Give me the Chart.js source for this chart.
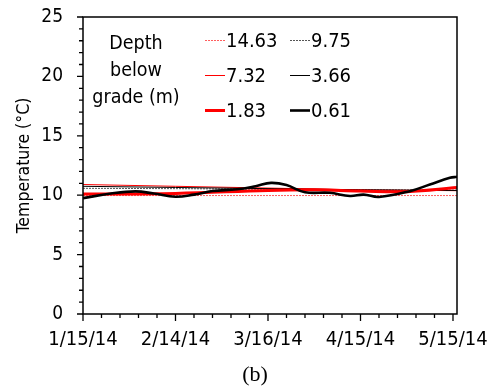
<!DOCTYPE html>
<html>
<head>
<meta charset="utf-8">
<script src="https://cdn.jsdelivr.net/npm/chart.js@4/dist/chart.umd.min.js"></script>
<style>
  html, body { margin: 0; padding: 0; background: #fff; }
</style>
</head>
<body>
<canvas id="chart" width="494" height="392"></canvas>
<script>
// x values are days after 1/15/14
const tickDates = ["1/15/14", "2/14/14", "3/16/14", "4/15/14", "5/15/14"];
const legendTitle = ["Depth", "below", "grade (m)"];
const depthLabels = ["14.63", "9.75", "7.32", "3.66", "1.83", "0.61"];

const daysCoarse = [0, 30, 60, 90, 121.3];
const temp1463 = [9.97, 9.97, 9.97, 9.97, 9.97];
const temp975 = [10.58, 10.55, 10.5, 10.45, 10.42];
const temp732 = [10.9, 10.75, 10.6, 10.45, 10.38];
const temp366 = [10.75, 10.65, 10.55, 10.45, 10.4];

const days183 = [0, 30, 60, 75, 90, 105, 121.3];
const temp183 = [10.1, 10.15, 10.4, 10.45, 10.35, 10.3, 10.65];

const days061 = [0, 9, 17, 23, 30, 36, 42, 50, 56, 61, 66, 72, 80, 86.6, 91, 96, 106, 112.5, 119, 121.3];
const temp061 = [9.75, 10.14, 10.32, 10.14, 9.87, 10.05, 10.35, 10.5, 10.76, 11.04, 10.85, 10.25, 10.2, 9.93, 10.05, 9.85, 10.34, 10.9, 11.46, 11.55];

const pts = (xs, ys) => xs.map((d, i) => ({ x: d, y: ys[i] }));

const FONT = '"DejaVu Sans Condensed", "DejaVu Sans", sans-serif';
Chart.defaults.font.family = FONT;
Chart.defaults.color = "#000";

// box round the plot plus long/short tick marks
const frameTicks = {
  id: "frameTicks",
  afterDraw(chart) {
    const { ctx, chartArea: a, scales: { x, y } } = chart;
    ctx.save();
    ctx.strokeStyle = "#000";
    ctx.lineWidth = 1.5;
    ctx.strokeRect(a.left, a.top, a.right - a.left, a.bottom - a.top);
    ctx.lineWidth = 1.3;
    ctx.beginPath();
    x.ticks.forEach(t => {
      const px = x.getPixelForValue(t.value);
      const len = t.value % 30 === 0 ? 7 : 4;
      ctx.moveTo(px, a.bottom);
      ctx.lineTo(px, a.bottom + len);
    });
    y.ticks.forEach(t => {
      const py = y.getPixelForValue(t.value);
      const len = t.value % 5 === 0 ? 6 : 4;
      ctx.moveTo(a.left, py);
      ctx.lineTo(a.left - len, py);
    });
    ctx.stroke();
    ctx.restore();
  }
};

// two-column legend with a title, inside the plot
const depthLegend = {
  id: "depthLegend",
  afterDatasetsDraw(chart) {
    const { ctx } = chart;
    ctx.save();
    ctx.fillStyle = "#000";
    ctx.font = "19.5px " + FONT;
    ctx.textAlign = "center";
    ctx.textBaseline = "middle";
    legendTitle.forEach((s, i) => ctx.fillText(s, 136, 44 + i * 27));
    ctx.font = "20px " + FONT;
    ctx.textAlign = "left";
    chart.data.datasets.forEach((ds, i) => {
      const col = i % 2, row = Math.floor(i / 2);
      const x0 = col ? 290 : 205;
      const yy = 40.5 + row * 35;
      ctx.strokeStyle = ds.borderColor;
      ctx.lineWidth = ds.borderWidth;
      ctx.setLineDash(ds.borderDash || []);
      ctx.beginPath();
      ctx.moveTo(x0, yy);
      ctx.lineTo(x0 + 20, yy);
      ctx.stroke();
      ctx.setLineDash([]);
      ctx.fillText(ds.label, x0 + 21, yy + 1);
    });
    ctx.restore();
  }
};

const caption = {
  id: "caption",
  afterDraw(chart) {
    const { ctx } = chart;
    ctx.save();
    ctx.fillStyle = "#000";
    ctx.font = '22px "Liberation Serif"';
    ctx.textAlign = "center";
    ctx.textBaseline = "middle";
    ctx.fillText("(b)", 255, 375);
    ctx.restore();
  }
};

new Chart(document.getElementById("chart"), {
  type: "line",
  data: {
    datasets: [
      { label: depthLabels[0], data: pts(daysCoarse, temp1463), borderColor: "rgba(255,40,40,0.75)", borderWidth: 1, borderDash: [2, 1], order: 5 },
      { label: depthLabels[1], data: pts(daysCoarse, temp975), borderColor: "#555", borderWidth: 1, borderDash: [2, 1], order: 4 },
      { label: depthLabels[2], data: pts(daysCoarse, temp732), borderColor: "#ff0000", borderWidth: 1, order: 3 },
      { label: depthLabels[3], data: pts(daysCoarse, temp366), borderColor: "#000", borderWidth: 1, order: 2 },
      { label: depthLabels[4], data: pts(days183, temp183), borderColor: "#ff0000", borderWidth: 3, tension: 0.4, order: 1 },
      { label: depthLabels[5], data: pts(days061, temp061), borderColor: "#000", borderWidth: 2.6, tension: 0.4, order: 0 }
    ]
  },
  options: {
    responsive: false,
    animation: false,
    devicePixelRatio: 1,
    layout: { padding: { left: 0, right: 37, top: 17, bottom: 0 } },
    elements: { point: { radius: 0 } },
    plugins: { legend: { display: false }, tooltip: { enabled: false } },
    scales: {
      x: {
        type: "linear",
        min: 0,
        max: 121.3,
        afterBuildTicks: (s) => { s.ticks = []; for (let v = 0; v <= 120; v += 6) s.ticks.push({ value: v }); },
        afterFit: (s) => { s.height = 78; s.paddingLeft = 0; s.paddingRight = 0; },
        grid: { display: false, drawTicks: false },
        border: { display: false },
        ticks: {
          autoSkip: false,
          maxRotation: 0,
          padding: 14,
          font: { size: 20 },
          callback: (v) => v % 30 === 0 ? tickDates[v / 30] : ""
        }
      },
      y: {
        min: 0,
        max: 25,
        afterBuildTicks: (s) => { s.ticks = []; for (let v = 0; v <= 25; v++) s.ticks.push({ value: v }); },
        afterFit: (s) => { s.width = 83; s.paddingTop = 0; s.paddingBottom = 0; },
        grid: { display: false, drawTicks: false },
        border: { display: false },
        ticks: {
          autoSkip: false,
          padding: 20,
          font: { size: 19 },
          callback: (v) => v % 5 === 0 ? String(v) : ""
        },
        title: {
          display: true,
          text: "Temperature (°C)",
          font: { size: 17.5 },
          padding: { top: 14, bottom: 0 }
        }
      }
    }
  },
  plugins: [frameTicks, depthLegend, caption]
});
</script>
</body>
</html>
